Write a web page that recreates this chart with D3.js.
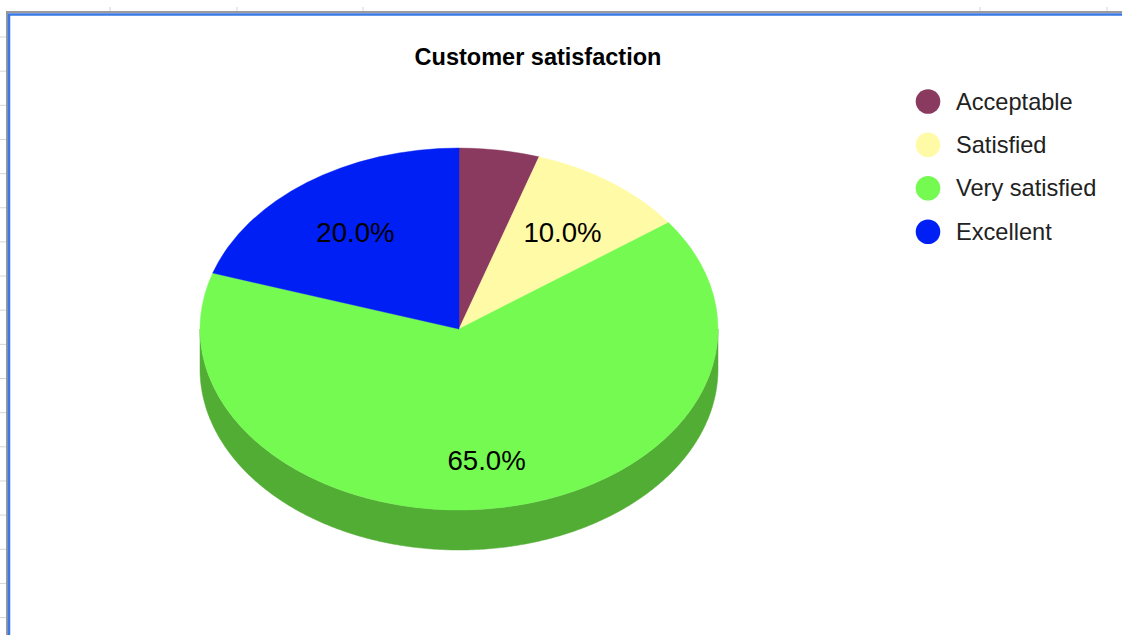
<!DOCTYPE html>
<html>
<head>
<meta charset="utf-8">
<script src="https://cdn.jsdelivr.net/npm/d3@7"></script>
<style>
  html, body { margin: 0; padding: 0; background: #fff; }
  svg { display: block; }
  text { font-family: "Liberation Sans", Arial, sans-serif; }
</style>
</head>
<body>
<script>
// Survey answers and their shares (percent)
const categories = ["Acceptable", "Satisfied", "Very satisfied", "Excellent"];
const shares = [5, 10, 65, 20];
const sliceColors = ["#8b3a5f", "#fffaa6", "#74fa50", "#001ff5"];
const sideColors = ["#6a2c48", "#c9c47e", "#52ad34", "#0018b8"];
const chartTitle = "Customer satisfaction";

const W = 1122, H = 635;
const svg = d3.select("body").append("svg")
  .attr("width", W).attr("height", H);

// Sheet backdrop: grid ticks around the embedded chart frame
const colTicks = [110, 237, 363, 980, 1107];
svg.selectAll("line.colTick").data(colTicks).join("line")
  .attr("class", "colTick")
  .attr("x1", d => d).attr("x2", d => d)
  .attr("y1", 7).attr("y2", 11)
  .attr("stroke", "#d6d6d6").attr("stroke-width", 1);
const rowTicks = d3.range(18).map(i => 37 + i * 34.15);
svg.selectAll("line.rowTick").data(rowTicks).join("line")
  .attr("class", "rowTick")
  .attr("x1", 0).attr("x2", 6)
  .attr("y1", d => d).attr("y2", d => d)
  .attr("stroke", "#d6d6d6").attr("stroke-width", 1);

// Chart frame (grey outer line + blue selection line)
svg.append("path")
  .attr("d", `M7,${H} V12 H${W}`)
  .attr("fill", "none").attr("stroke", "#9a9a9a").attr("stroke-width", 2);
svg.append("path")
  .attr("d", `M9,${H} V14.5 H${W}`)
  .attr("fill", "none").attr("stroke", "#3a78e6").attr("stroke-width", 2.5);

// Title
svg.append("text")
  .attr("x", 538).attr("y", 65)
  .attr("text-anchor", "middle")
  .attr("font-size", 23.5).attr("font-weight", "bold")
  .attr("fill", "#000")
  .text(chartTitle);

// 3D pie geometry
const cx = 459, cy = 329, rx = 259, ry = 181, depth = 40;

const data = categories.map((c, i) => ({ name: c, value: shares[i], i }));
const arcs = d3.pie().sort(null).value(d => d.value).startAngle(0).endAngle(2 * Math.PI)(data);
const total = d3.sum(shares);

const pieG = svg.append("g").attr("transform", `translate(${cx},${cy})`);

// Side walls: only the front half (angles between PI/2 and 3PI/2) is visible
const wall = d3.area()
  .x(a => rx * Math.sin(a))
  .y0(a => -ry * Math.cos(a))
  .y1(a => -ry * Math.cos(a) + depth);

arcs.forEach(a => {
  const s = Math.max(a.startAngle, Math.PI / 2);
  const e = Math.min(a.endAngle, 3 * Math.PI / 2);
  if (e <= s) return;
  const n = Math.max(2, Math.ceil((e - s) / 0.01));
  const angles = d3.range(n + 1).map(k => s + (e - s) * k / n);
  pieG.append("path")
    .attr("d", wall(angles))
    .attr("fill", sideColors[a.data.i])
    .attr("stroke", sideColors[a.data.i])
    .attr("stroke-width", 0.5);
});

// Top face: circular arcs squashed into an ellipse
const faceG = pieG.append("g").attr("transform", `scale(1, ${ry / rx})`);
const arcGen = d3.arc().innerRadius(0).outerRadius(rx);
faceG.selectAll("path").data(arcs).join("path")
  .attr("d", arcGen)
  .attr("fill", d => sliceColors[d.data.i])
  .attr("stroke", d => sliceColors[d.data.i])
  .attr("stroke-width", 0.5);

// Percentage labels (small slices stay unlabelled)
const fmt = d3.format(".1%");
pieG.selectAll("text").data(arcs.filter(d => d.data.value / total >= 0.08)).join("text")
  .attr("x", d => rx * 0.68 * Math.sin((d.startAngle + d.endAngle) / 2))
  .attr("y", d => -ry * 0.70 * Math.cos((d.startAngle + d.endAngle) / 2) + 6)
  .attr("text-anchor", "middle")
  .attr("dominant-baseline", "central")
  .attr("font-size", 27.6)
  .attr("fill", "#000")
  .text(d => fmt(d.data.value / total));

// Legend
const legend = svg.append("g").attr("transform", "translate(928,101.5)");
const item = legend.selectAll("g").data(categories).join("g")
  .attr("transform", (d, i) => `translate(0,${i * 43.4})`);
item.append("circle").attr("r", 12.3).attr("fill", (d, i) => sliceColors[i]);
item.append("text")
  .attr("x", 28).attr("y", 0)
  .attr("dominant-baseline", "central")
  .attr("font-size", 23.6)
  .attr("fill", "#222")
  .text(d => d);
</script>
</body>
</html>
